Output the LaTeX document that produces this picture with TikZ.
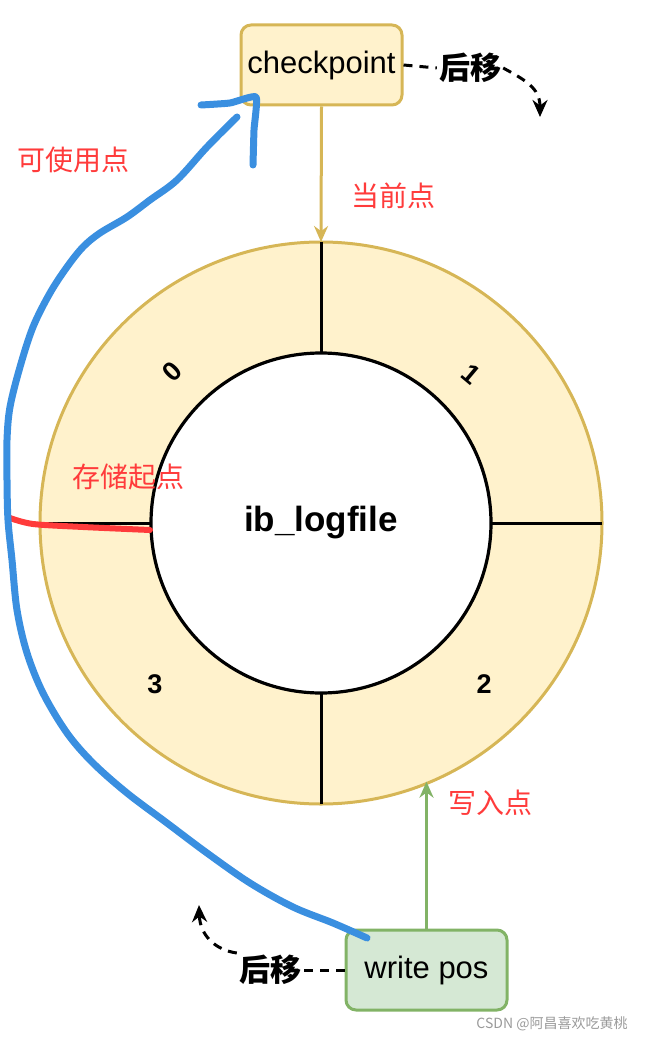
\documentclass[tikz,border=0pt]{standalone}
\usepackage{fontspec}
\setmainfont{Liberation Sans}
\newfontfamily\cjk{Noto Sans CJK SC}
\usepackage{xcolor}
\usetikzlibrary{arrows.meta}
\definecolor{ringfill}{HTML}{FFF2CC}
\definecolor{ringline}{HTML}{D6B656}
\definecolor{posfill}{HTML}{D5E8D4}
\definecolor{posline}{HTML}{82B366}
\definecolor{note}{HTML}{FF3B3B}
\definecolor{pen}{HTML}{3A8FE0}
\definecolor{wmark}{HTML}{9A9A9A}
\tikzset{
  ptrbox/.style={draw, rounded corners=10pt, line width=3pt, minimum width=161pt,
    minimum height=80pt, inner sep=0pt, font=\fontsize{31}{36}\selectfont},
  ringbody/.style={circle, draw=ringline, fill=ringfill, line width=3pt, outer sep=0pt,
    inner sep=0pt, minimum size=562pt},
  hubbody/.style={circle, draw=black, fill=white, line width=3.2pt, outer sep=0pt,
    inner sep=0pt, minimum size=340pt, font=\bfseries\fontsize{35}{40}\selectfont},
  divider/.style={draw=black, line width=3pt},
  seglab/.style={font=\bfseries\fontsize{27}{30}\selectfont},
  shiftlab/.style={font=\cjk\bfseries\fontsize{31}{34}\selectfont, inner sep=2pt},
  shiftline/.style={draw=black, dashed, dash pattern=on 9pt off 7pt, line width=3pt,
    -{Stealth[length=17pt,width=15pt]}},
  notelab/.style={text=note, font=\cjk\fontsize{28}{32}\selectfont},
  feed/.style={line width=3pt, -{Stealth[length=16pt,width=14pt]}},
  penline/.style={draw=pen, line width=7pt, line cap=round, line join=round},
}
\begin{document}
\begin{tikzpicture}[x=1pt,y=-1pt]
  \useasboundingbox (0,0) rectangle (647,1040);
  % ring of log files
  \node[ringbody] (ring) at (321,523) {};
  \node[hubbody] (hub) at (321,523) {ib\_logfile};
  \foreach \a in {0,90,180,270}
    \draw[divider] (ring.\a) -- (hub.\a);
  \node[seglab, rotate=45] (s0) at (172,372) {0};
  \node[seglab, rotate=-40] (s1) at (471,374) {1};
  \node[seglab] (s2) at (484,684) {2};
  \node[seglab] (s3) at (155,684) {3};
  % pointers
  \node[ptrbox, draw=ringline, fill=ringfill] (cp) at (321.5,65) {checkpoint};
  \node[ptrbox, draw=posline, fill=posfill] (wp) at (426.5,970) {write pos};
  \draw[feed, color=ringline] (cp.south) -- (ring.north);
  \draw[feed, color=posline] (wp.north) -- (wp.north |- ring.-67.8);
  % moving on
  \node[shiftlab] (mvtop) at (470,68) {后移};
  \coordinate (mvtopend) at (540,117);
  \draw[shiftline, -] (cp.east) -- (mvtop.west);
  \draw[shiftline] (mvtop.east) .. controls (525,80) and (540,88) .. (mvtopend);
  \node[shiftlab] (mvbot) at (270,970) {后移};
  \coordinate (mvbotend) at (199,905);
  \draw[shiftline, -] (wp.west) -- (mvbot.east);
  \draw[shiftline] (mvbot.north west) .. controls (215,950) and (200,935) .. (mvbotend);
  % notes
  \node[notelab] (n1) at (393,196) {当前点};
  \node[notelab] (n2) at (73,160) {可使用点};
  \node[notelab] (n3) at (128,477) {存储起点};
  \node[notelab] (n4) at (490,803) {写入点};
  \draw[penline, draw=note, line width=6pt] plot[smooth, tension=0.5] coordinates
    {(10,518) (33,524) (83,527) (150,530)};
  \draw[penline] plot[smooth, tension=0.55] coordinates
    {(367,938) (333,923) (293,907) (250,883) (207,853) (167,823) (127,793) (93,763)
     (67,733) (43,693) (27,653) (17,610) (12,560) (8,520) (7,480) (7,440) (10,407)
     (20,367) (33,327) (50,293) (67,267) (83,247) (100,233) (127,217) (150,200)
     (177,180) (207,147) (237,117)};
  \draw[penline] plot[smooth, tension=0.3] coordinates
    {(201,105) (230,103) (256,97) (254,130) (253,165)};
  \node[text=wmark, font=\cjk\fontsize{14}{16}\selectfont] (wm) at (552,1024) {CSDN @阿昌喜欢吃黄桃};
\end{tikzpicture}
\end{document}
